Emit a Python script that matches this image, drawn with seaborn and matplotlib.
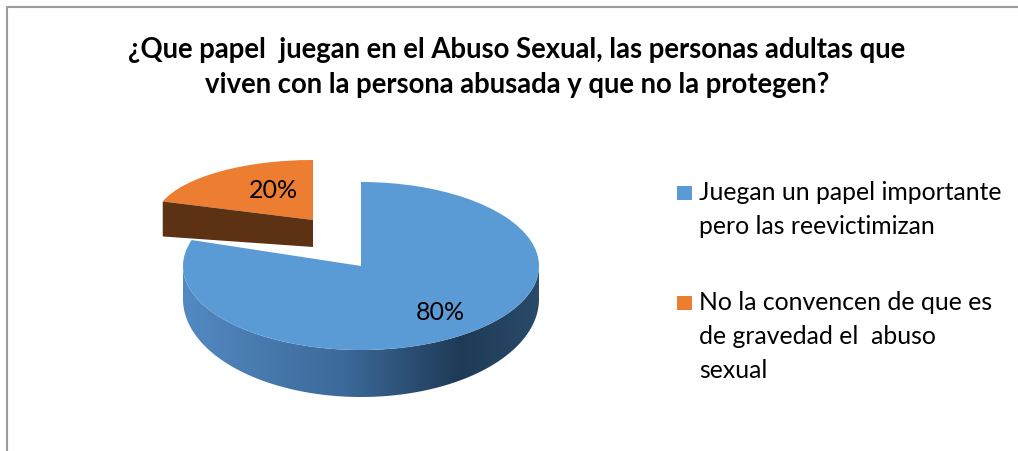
import numpy as np
import matplotlib
matplotlib.use("Agg")
import matplotlib.pyplot as plt
import seaborn as sns
from matplotlib.transforms import Affine2D
from matplotlib.patches import Polygon, Rectangle
from matplotlib.colors import LinearSegmentedColormap
from matplotlib.lines import Line2D

# ---------------- data ----------------
categories = ["Juegan un papel importante\npero las reevictimizan",
              "No la convencen de que es\nde gravedad el  abuso\nsexual"]
values = [80, 20]
pct_labels = ["80%", "20%"]
title_lines = ["¿Que papel  juegan en el Abuso Sexual, las personas adultas que",
               "viven con la persona abusada y que no la protegen?"]

# ---------------- style ----------------
top_colors = ["#5b9bd5", "#ed7d31"]
side_color_orange = "#5c3114"
blue_side_cmap = LinearSegmentedColormap.from_list(
    "side", [(0.0, "#5389c2"), (0.45, "#3c6a9a"), (0.78, "#1f3a56"), (1.0, "#294a69")])

sns.set_theme(style="white")
plt.rcParams['font.family'] = ['Lato', 'DejaVu Sans']

fig = plt.figure(figsize=(10.18, 4.51), dpi=100)
ax = fig.add_axes([0, 0, 1, 1])

wedges, _ = ax.pie(values, startangle=90, counterclock=False,
                   colors=top_colors, wedgeprops=dict(linewidth=0))
ax.set_aspect('auto')
ax.set_xlim(0, 1018)
ax.set_ylim(451, 0)
ax.axis('off')

# per-slice projected geometry (pixel layout of the 3-D look)
centers = [(361, 266), (313, 220)]
radii = [(178, 84), (158, 60)]
label_pos = [(440, 313), (273, 190)]


def rim(i, a_deg, extra=0.0):
    cx, cy = centers[i]
    rx, ry = radii[i]
    a = np.deg2rad(a_deg)
    return cx + rx * np.cos(a), cy - ry * np.sin(a) + extra


def depth_blue(a_deg):
    return 33 + 14 * np.clip(-np.sin(np.deg2rad(a_deg)), 0, 1)


for i, w in enumerate(wedges):
    cx, cy = centers[i]
    rx, ry = radii[i]
    w.set_transform(Affine2D().scale(rx, -ry).translate(cx, cy) + ax.transData)
    w.set_zorder(4 if i == 0 else 2)

# blue front side wall (gradient)
w0 = wedges[0]
angs = np.linspace(w0.theta1, w0.theta2, 600)
front = angs[np.sin(np.deg2rad(angs)) <= 0]
top_pts = [rim(0, a) for a in front]
bot_pts = [rim(0, a, depth_blue(a)) for a in front[::-1]]
poly = Polygon(top_pts + bot_pts, closed=True, facecolor="none", edgecolor="none")
ax.add_patch(poly)
xs = [p[0] for p in top_pts + bot_pts]
ys = [p[1] for p in top_pts + bot_pts]
grad = np.linspace(0, 1, 256)[None, :]
im = ax.imshow(grad, cmap=blue_side_cmap, aspect='auto',
               extent=(min(xs), max(xs), max(ys), min(ys)), zorder=3,
               interpolation='bilinear')
im.set_clip_path(poly)

# orange radial cut face (visible edge)
w1 = wedges[1]
edge_a = w1.theta2 if np.cos(np.deg2rad(w1.theta2)) < 0 else w1.theta1
tip = centers[1]
rp = rim(1, edge_a)
d_tip, d_rim = 27, 35
ax.add_patch(Polygon([tip, rp, (rp[0], rp[1] + d_rim), (tip[0], tip[1] + d_tip)],
                     closed=True, facecolor=side_color_orange, edgecolor="none", zorder=2.5))

ax.set_xlim(0, 1018)
ax.set_ylim(451, 0)

# percentage labels
for (x, y), t in zip(label_pos, pct_labels):
    ax.text(x, y, t, ha='center', va='center', fontsize=18, color='black', zorder=6)

# title
renderer = fig.canvas.get_renderer()
t1 = ax.text(517, 50, title_lines[0], ha='center', va='center', fontsize=18,
             fontweight='bold', color='black')
w_t = t1.get_window_extent(renderer).width
tsize = 18 * 781 / w_t
t1.set_fontsize(tsize)
ax.text(517, 85, title_lines[1], ha='center', va='center', fontsize=tsize,
        fontweight='bold', color='black')

# legend (manual)
probe = ax.text(0, 0, categories[0].split("\n")[0], fontsize=18)
w_l = probe.get_window_extent(renderer).width
lsize = 18 * 302 / w_l
probe.remove()
legend_y0 = [193, 303]
for k, (cat, col) in enumerate(zip(categories, top_colors)):
    ax.add_patch(Rectangle((677, legend_y0[k] - 7), 15, 14, facecolor=col,
                           edgecolor='none', zorder=5))
    for j, line in enumerate(cat.split("\n")):
        ax.text(699, legend_y0[k] + 33.5 * j, line, ha='left', va='center',
                fontsize=lsize, color='black')

# chart border (top and left visible)
ax.add_line(Line2D([7, 7, 1018], [451, 7, 7], color="#9c9c9c", lw=1.5, zorder=10))

fig.savefig("out.png", dpi=100)
